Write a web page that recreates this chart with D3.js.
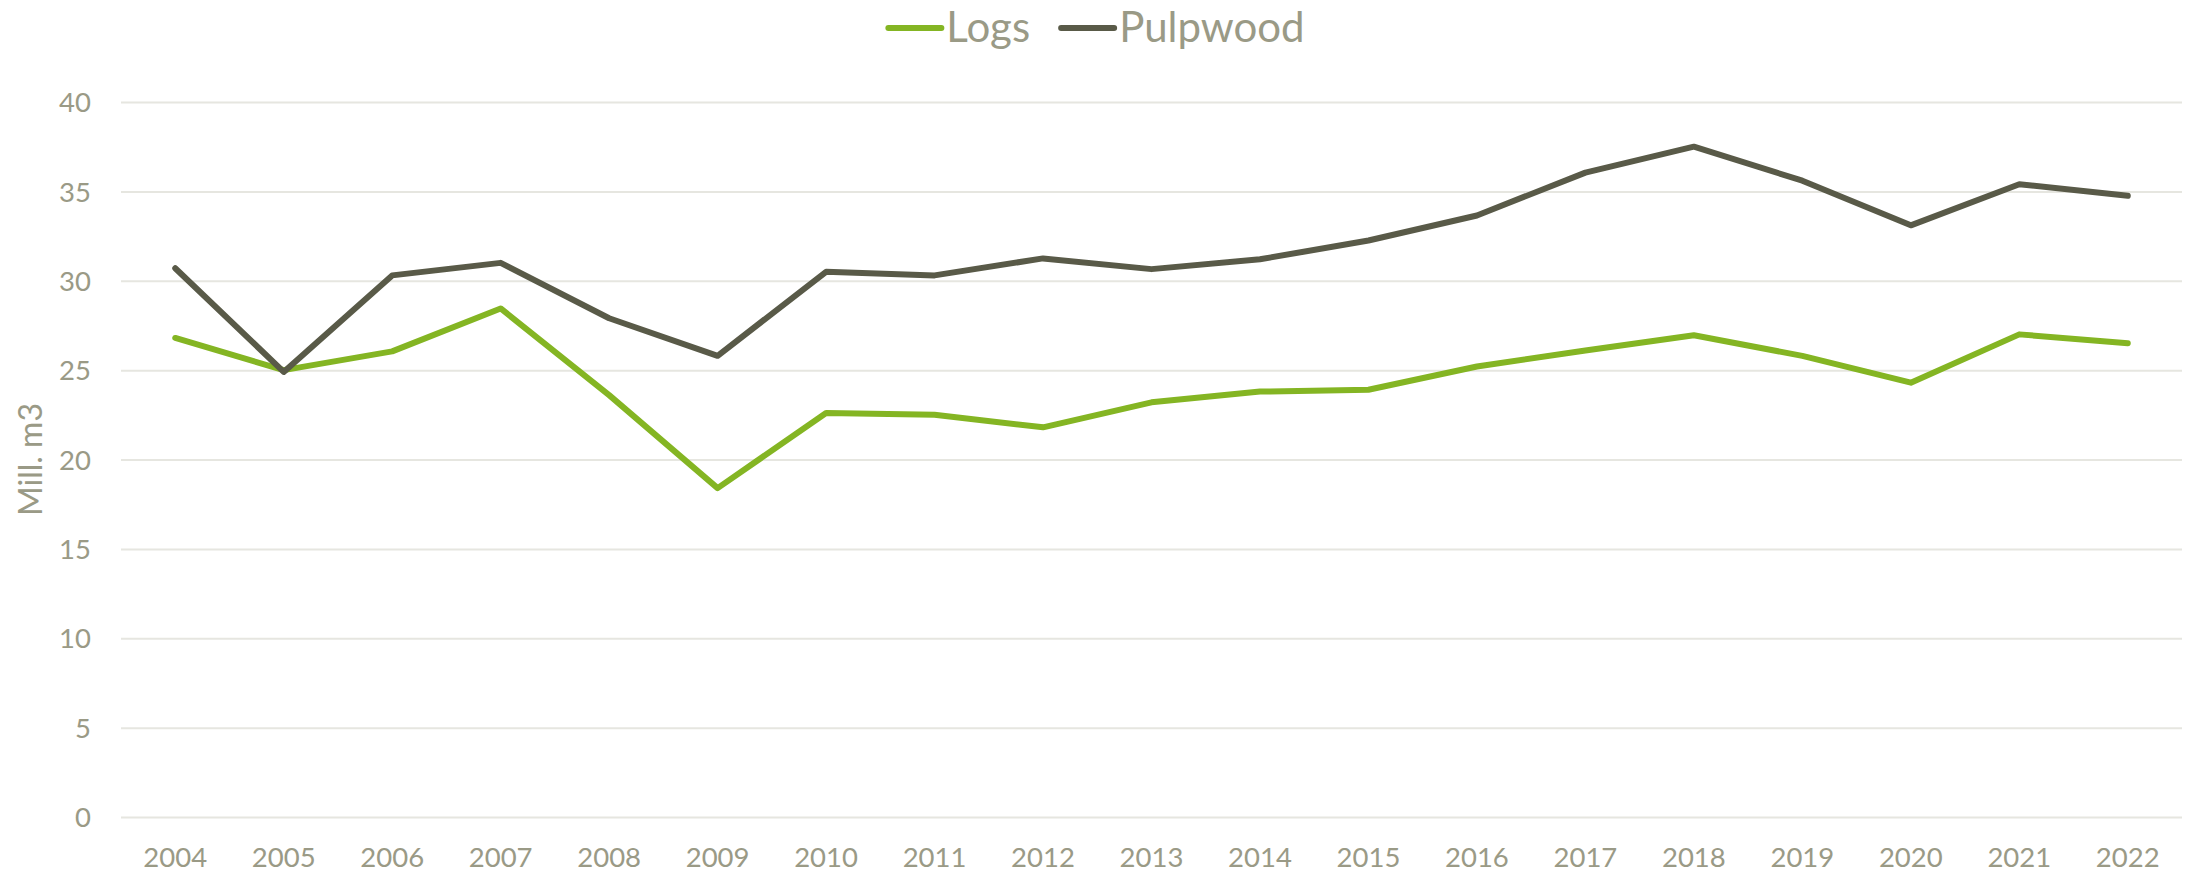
<!DOCTYPE html>
<html>
<head>
<meta charset="utf-8">
<script src="https://cdn.jsdelivr.net/npm/d3@7"></script>
<style>
  html, body { margin: 0; padding: 0; background: #ffffff; }
  svg { display: block; }
  text { font-family: Lato, "Open Sans", sans-serif; }
</style>
</head>
<body>
<svg id="chart" width="2190" height="874"></svg>
<script>
const years = ["2004","2005","2006","2007","2008","2009","2010","2011","2012","2013","2014","2015","2016","2017","2018","2019","2020","2021","2022"];
const logs = [26.8, 25.0, 26.05, 28.45, 23.6, 18.4, 22.6, 22.5, 21.8, 23.2, 23.8, 23.9, 25.2, 26.1, 26.95, 25.8, 24.3, 27.0, 26.5];
const pulpwood = [30.7, 24.9, 30.3, 31.0, 27.9, 25.8, 30.5, 30.3, 31.25, 30.65, 31.2, 32.25, 33.65, 36.05, 37.5, 35.6, 33.1, 35.4, 34.75];
const yTicks = [0, 5, 10, 15, 20, 25, 30, 35, 40];
const seriesNames = ["Logs", "Pulpwood"];
const seriesColors = ["#84b523", "#595a48"];
const yTitle = "Mill. m3";

const textColor = "#9a9a86";
const gridColor = "#e6e6e0";

const svg = d3.select("#chart");
const mLeft = 121, mRight = 2182, mTop = 102, mBottom = 817;

const x = d3.scaleBand().domain(years).range([mLeft, mRight]).padding(0);
const y = d3.scaleLinear().domain([0, 40]).range([mBottom, mTop]);

// gridlines + y labels
const yAxis = d3.axisLeft(y).tickValues(yTicks).tickSize(-(mRight - mLeft)).tickPadding(30).tickFormat(d3.format("d"));
const gy = svg.append("g").attr("transform", `translate(${mLeft},0)`).call(yAxis);
gy.select(".domain").remove();
gy.selectAll(".tick line").attr("stroke", gridColor).attr("stroke-width", 2);
gy.selectAll(".tick text").attr("fill", textColor).style("font-size", "27.5px").attr("x", -30).attr("dy", "0.35em");

// x axis labels
const xAxis = d3.axisBottom(x).tickSize(0).tickPadding(0);
const gx = svg.append("g").attr("transform", `translate(0,${mBottom})`).call(xAxis);
gx.select(".domain").remove();
gx.selectAll(".tick text").attr("fill", textColor).style("font-size", "27.5px").attr("y", 50).attr("dy", 0);

// y title
svg.append("text")
  .attr("transform", `translate(42,${(mTop + mBottom) / 2}) rotate(-90)`)
  .attr("text-anchor", "middle")
  .attr("fill", textColor)
  .style("font-size", "32px")
  .text(yTitle);

// lines
const line = d3.line().x((d, i) => x(years[i]) + x.bandwidth() / 2).y(d => y(d));
[logs, pulpwood].forEach((data, k) => {
  svg.append("path")
    .datum(data)
    .attr("fill", "none")
    .attr("stroke", seriesColors[k])
    .attr("stroke-width", 6)
    .attr("stroke-linejoin", "round")
    .attr("stroke-linecap", "round")
    .attr("d", line);
});

// legend
const legend = svg.append("g");
const sampleLen = 56, gapText = 5, gapItem = 28, legY = 28;
let cx = 0;
seriesNames.forEach((name, k) => {
  const g = legend.append("g").attr("transform", `translate(${cx},0)`);
  g.append("line").attr("x1", 3).attr("x2", sampleLen).attr("y1", legY).attr("y2", legY)
    .attr("stroke", seriesColors[k]).attr("stroke-width", 6).attr("stroke-linecap", "round");
  const t = g.append("text").attr("x", sampleLen + gapText).attr("y", 42)
    .attr("fill", textColor).style("font-size", "42px").text(name);
  const w = t.node().getComputedTextLength();
  cx += sampleLen + gapText + w + gapItem;
});
const totalW = cx - gapItem;
legend.attr("transform", `translate(${1095 - totalW / 2},0)`);
</script>
</body>
</html>
